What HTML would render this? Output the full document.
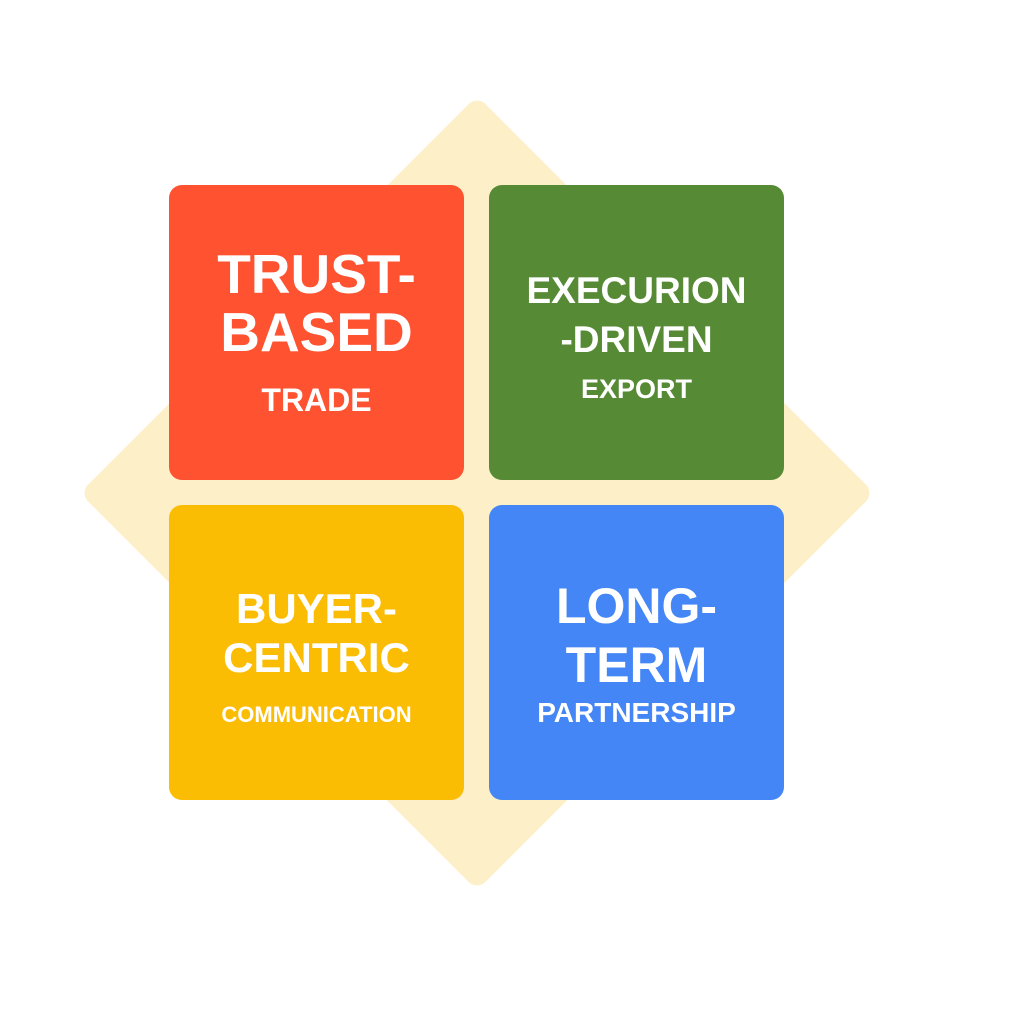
<!DOCTYPE html>
<html><head><style>
body{margin:0;width:1024px;height:1024px;background:#fff;position:relative;overflow:hidden;font-family:"Liberation Sans",sans-serif;font-weight:bold;color:#fff}
.d{position:absolute;left:196px;top:212px;width:562px;height:562px;background:#FDEFC8;border-radius:12px;transform:rotate(45deg)}
.b{position:absolute;width:295px;height:295px;border-radius:13px}
.t{position:absolute;left:0;width:100%;text-align:center;line-height:1;white-space:nowrap}
</style></head><body>
<div class="d"></div>
<div class="b" style="left:169px;top:185px;background:#FE5230">
<div class="t" style="top:62px;font-size:55px">TRUST-</div>
<div class="t" style="top:120px;font-size:55px">BASED</div>
<div class="t" style="top:199px;font-size:32px">TRADE</div>
</div>
<div class="b" style="left:489px;top:185px;background:#568A35">
<div class="t" style="top:87px;font-size:37px">EXECURION</div>
<div class="t" style="top:136px;font-size:37px">-DRIVEN</div>
<div class="t" style="top:191px;font-size:27px">EXPORT</div>
</div>
<div class="b" style="left:489px;top:505px;background:#4486F5">
<div class="t" style="top:76px;font-size:50px">LONG-</div>
<div class="t" style="top:135px;font-size:50px">TERM</div>
<div class="t" style="top:194px;font-size:28px">PARTNERSHIP</div>
</div>
<div class="b" style="left:169px;top:505px;background:#FBBC04">
<div class="t" style="top:83px;font-size:42px">BUYER-</div>
<div class="t" style="top:132px;font-size:42px">CENTRIC</div>
<div class="t" style="top:199px;font-size:22px">COMMUNICATION</div>
</div>
</body></html>
